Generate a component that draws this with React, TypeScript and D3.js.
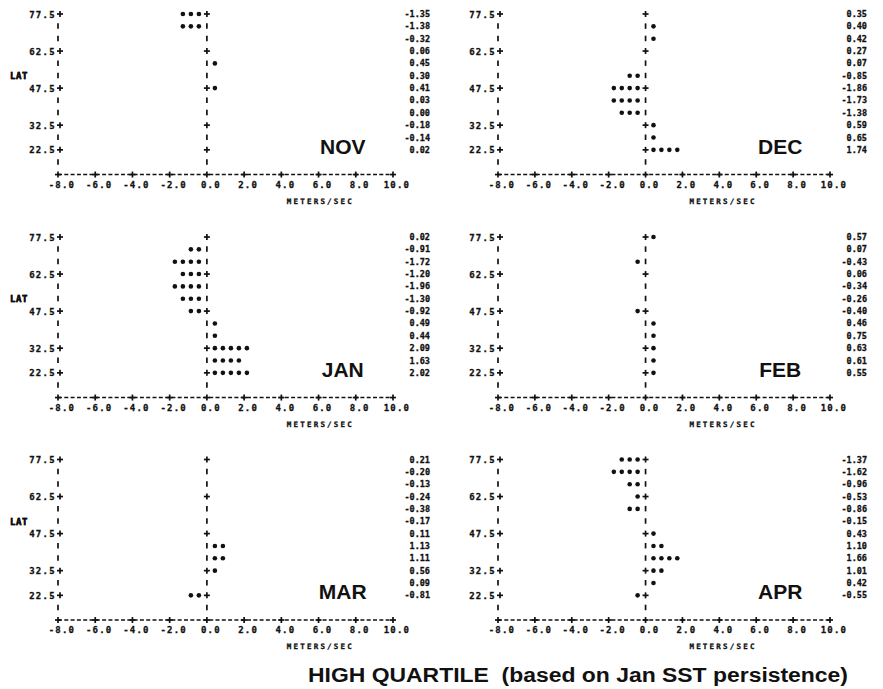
import React from "react";
import * as d3 from "d3";

// latitude rows, top to bottom
const LATS = [77.5, 72.5, 67.5, 62.5, 57.5, 52.5, 47.5, 42.5, 37.5, 32.5, 27.5, 22.5];
const LAT_TICKS = [77.5, 62.5, 47.5, 32.5, 22.5];
const X_TICKS = [-8, -6, -4, -2, 0, 2, 4, 6, 8, 10];
const MONTHS = ["NOV", "DEC", "JAN", "FEB", "MAR", "APR"];

const NOV = [-1.35, -1.38, -0.32, 0.06, 0.45, 0.3, 0.41, 0.03, 0.0, -0.18, -0.14, 0.02];
const DEC = [0.35, 0.4, 0.42, 0.27, 0.07, -0.85, -1.86, -1.73, -1.38, 0.59, 0.65, 1.74];
const JAN = [0.02, -0.91, -1.72, -1.2, -1.96, -1.3, -0.92, 0.49, 0.44, 2.09, 1.63, 2.02];
const FEB = [0.57, 0.07, -0.43, 0.06, -0.34, -0.26, -0.4, 0.46, 0.75, 0.63, 0.61, 0.55];
const MAR = [0.21, -0.2, -0.13, -0.24, -0.38, -0.17, 0.11, 1.13, 1.11, 0.56, 0.09, -0.81];
const APR = [-1.37, -1.62, -0.96, -0.53, -0.86, -0.15, 0.43, 1.1, 1.66, 1.01, 0.42, -0.55];
const SERIES = [NOV, DEC, JAN, FEB, MAR, APR];

const CAPTION = "HIGH QUARTILE  (based on Jan SST persistence)";

// line printer: one symbol per 0.4 m/s
const CHAR_VALUE = 0.4;
const DOT_STEP = 0.43;

const INK = "#111";
const MONO = "'DejaVu Sans Mono', monospace";
const SANS = "'Liberation Sans', Arial, sans-serif";

const COLS = [
  { x0: 58, x1: 393, unitsAt: 6.1 },
  { x0: 498, x1: 830, unitsAt: 4.2 },
];
const ROW_TOPS = [14, 237, 459.5];
const ROW_STEP = 12.35;

// printer text is heavy, so a thin stroke thickens it
const mono = (size: number, spacing: number) => ({
  fontFamily: MONO,
  fontWeight: "bold" as const,
  fontSize: size,
  letterSpacing: spacing,
  fill: INK,
  stroke: INK,
  strokeWidth: 0.3,
});

const Plus = ({ x, y }: { x: number; y: number }) => (
  <g stroke={INK} strokeWidth={1.7}>
    <line x1={x - 3} x2={x + 3} y1={y} y2={y} />
    <line x1={x} x2={x} y1={y - 3} y2={y + 3} />
  </g>
);

const Bar = ({ x, y }: { x: number; y: number }) => (
  <line x1={x} x2={x} y1={y - 3} y2={y + 2.5} stroke={INK} strokeWidth={1.7} />
);

function Panel({ idx }: { idx: number }) {
  const col = COLS[idx % 2];
  const top = ROW_TOPS[Math.floor(idx / 2)];
  const values = SERIES[idx];

  const x = d3.scaleLinear().domain([-8, 10]).range([col.x0, col.x1]);
  const y = d3.scaleLinear().domain([77.5, 12.5]).range([top, top + 13 * ROW_STEP]);
  const axisY = y(12.5);
  const rows = [...LATS, 17.5];
  const isTick = (lat: number) => LAT_TICKS.includes(lat);
  const count = d3.scaleLinear().domain([0, CHAR_VALUE]).range([0, 1]);

  return (
    <g>
      {/* latitude labels */}
      {LAT_TICKS.map((lat) => (
        <text key={lat} x={x(-8) - 2} y={y(lat) + 3.5} textAnchor="end" {...mono(9, 1.3)}>
          {lat.toFixed(1)}
        </text>
      ))}
      <text x={10} y={y(52.5) + 3.5} {...mono(9, 0.6)}>LAT</text>

      {/* left axis and zero axis */}
      {rows.map((lat) =>
        [-8, 0].map((v) =>
          isTick(lat) ? (
            <Plus key={`${lat}-${v}`} x={x(v) + (v === -8 ? 2 : 0)} y={y(lat)} />
          ) : (
            <Bar key={`${lat}-${v}`} x={x(v)} y={y(lat)} />
          )
        )
      )}

      {/* bars of printed symbols */}
      {values.map((v, i) => {
        const n = Math.floor(count(Math.abs(v)) + 1e-9);
        const s = v < 0 ? -1 : 1;
        return d3.range(1, n + 1).map((k) => (
          <circle key={`${i}-${k}`} cx={x(s * k * DOT_STEP)} cy={y(LATS[i])} r={2.3} fill={INK} />
        ));
      })}

      {/* value column */}
      {values.map((v, i) => (
        <text key={i} x={x(10) + 37} y={y(LATS[i]) + 3} textAnchor="end" {...mono(8.5, 0)}>
          {v.toFixed(2)}
        </text>
      ))}

      {/* x axis */}
      <line x1={x(-8)} x2={x(10)} y1={axisY} y2={axisY} stroke={INK} strokeWidth={1.6}
        strokeDasharray="4 2.3" />
      {X_TICKS.map((t) => (
        <g key={t}>
          <Plus x={x(t)} y={axisY} />
          <text x={x(t) + 4} y={axisY + 13} textAnchor="middle" {...mono(9, 1.2)}>
            {t.toFixed(1)}
          </text>
        </g>
      ))}
      <text x={x(col.unitsAt)} y={axisY + 29} textAnchor="middle" {...mono(7.5, 2.2)}>
        METERS/SEC
      </text>

      {/* month */}
      <text x={x(7.3)} y={y(24) + 7.5} textAnchor="middle" fontFamily={SANS} fontWeight="bold"
        fontSize={21} fill={INK}>
        {MONTHS[idx]}
      </text>
    </g>
  );
}

export default function App() {
  return (
    <svg width={883} height={689} style={{ position: "absolute", left: 0, top: 0, background: "#fff" }}>
      <rect width={883} height={689} fill="#fff" />
      {MONTHS.map((m, i) => (
        <Panel key={m} idx={i} />
      ))}
      <text x={308} y={682} fontFamily={SANS} fontWeight="bold" fontSize={20} fill={INK}
        textLength={540} lengthAdjust="spacingAndGlyphs" style={{ whiteSpace: "pre" }}>
        {CAPTION}
      </text>
    </svg>
  );
}
